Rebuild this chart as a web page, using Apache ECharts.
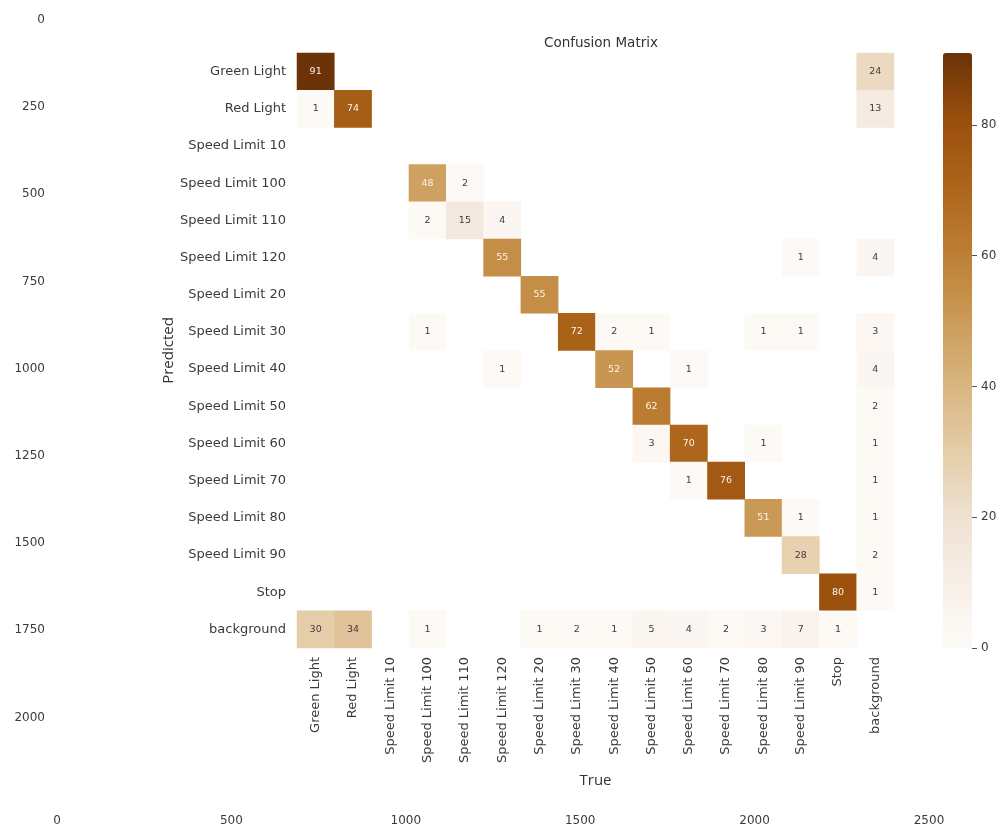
<!DOCTYPE html>
<html>
<head>
<meta charset="utf-8">
<title>Confusion Matrix</title>
<script src="https://cdn.jsdelivr.net/npm/echarts@6/dist/echarts.min.js"></script>
<style>
  html, body { margin: 0; padding: 0; background: #ffffff; }
  #chart { width: 1000px; height: 829px; }
</style>
</head>
<body>
<div id="chart"></div>
<script>
// Class names shared by both axes of the matrix
const classes = [
  'Green Light', 'Red Light', 'Speed Limit 10', 'Speed Limit 100',
  'Speed Limit 110', 'Speed Limit 120', 'Speed Limit 20', 'Speed Limit 30',
  'Speed Limit 40', 'Speed Limit 50', 'Speed Limit 60', 'Speed Limit 70',
  'Speed Limit 80', 'Speed Limit 90', 'Stop', 'background'
];

// One row per predicted class, columns follow the true class order
const rowGreenLight = [91, 0, 0, 0, 0, 0, 0, 0, 0, 0, 0, 0, 0, 0, 0, 24];
const rowRedLight   = [1, 74, 0, 0, 0, 0, 0, 0, 0, 0, 0, 0, 0, 0, 0, 13];
const rowSL10       = [0, 0, 0, 0, 0, 0, 0, 0, 0, 0, 0, 0, 0, 0, 0, 0];
const rowSL100      = [0, 0, 0, 48, 2, 0, 0, 0, 0, 0, 0, 0, 0, 0, 0, 0];
const rowSL110      = [0, 0, 0, 2, 15, 4, 0, 0, 0, 0, 0, 0, 0, 0, 0, 0];
const rowSL120      = [0, 0, 0, 0, 0, 55, 0, 0, 0, 0, 0, 0, 0, 1, 0, 4];
const rowSL20       = [0, 0, 0, 0, 0, 0, 55, 0, 0, 0, 0, 0, 0, 0, 0, 0];
const rowSL30       = [0, 0, 0, 1, 0, 0, 0, 72, 2, 1, 0, 0, 1, 1, 0, 3];
const rowSL40       = [0, 0, 0, 0, 0, 1, 0, 0, 52, 0, 1, 0, 0, 0, 0, 4];
const rowSL50       = [0, 0, 0, 0, 0, 0, 0, 0, 0, 62, 0, 0, 0, 0, 0, 2];
const rowSL60       = [0, 0, 0, 0, 0, 0, 0, 0, 0, 3, 70, 0, 1, 0, 0, 1];
const rowSL70       = [0, 0, 0, 0, 0, 0, 0, 0, 0, 0, 1, 76, 0, 0, 0, 1];
const rowSL80       = [0, 0, 0, 0, 0, 0, 0, 0, 0, 0, 0, 0, 51, 1, 0, 1];
const rowSL90       = [0, 0, 0, 0, 0, 0, 0, 0, 0, 0, 0, 0, 0, 28, 0, 2];
const rowStop       = [0, 0, 0, 0, 0, 0, 0, 0, 0, 0, 0, 0, 0, 0, 80, 1];
const rowBackground = [30, 34, 0, 1, 0, 0, 1, 2, 1, 5, 4, 2, 3, 7, 1, 0];

const matrixRows = [
  rowGreenLight, rowRedLight, rowSL10, rowSL100, rowSL110, rowSL120, rowSL20,
  rowSL30, rowSL40, rowSL50, rowSL60, rowSL70, rowSL80, rowSL90, rowStop, rowBackground
];

// Colour bar ticks
const colorbarTicks = [0, 20, 40, 60, 80];
// Pixel-coordinate ticks of the surrounding frame
const frameXTicks = [0, 500, 1000, 1500, 2000, 2500];
const frameYTicks = [0, 250, 500, 750, 1000, 1250, 1500, 1750, 2000];

// Brown sequential colour ramp, light to dark
const ramp = ['#fefbf8', '#f7efe7', '#efe1d2', '#e4cca7', '#d8b47f',
              '#cb9a56', '#bd7e34', '#ac641a', '#9a4f0d', '#6b3307'];

const maxCount = Math.max(...matrixRows.map(r => Math.max(...r)));

// Heatmap cells: zero counts are left blank
const cells = [];
matrixRows.forEach((row, yi) => {
  row.forEach((v, xi) => {
    if (v > 0) {
      cells.push({
        value: [xi, yi, v],
        label: { color: v >= 40 ? '#fbf3ea' : '#3d3d3d' }
      });
    }
  });
});

const dejavu = 'DejaVu Sans';
const tickGray = '#3b3b3b';
const plain = v => String(v);

const chart = echarts.init(document.getElementById('chart'), null, { renderer: 'canvas' });

chart.setOption({
  backgroundColor: '#ffffff',
  animation: false,
  title: {
    text: 'Confusion Matrix',
    left: 596, top: 31, textAlign: 'center',
    textStyle: { fontFamily: dejavu, fontSize: 13.5, fontWeight: 'normal', color: '#333' }
  },
  grid: [
    // outer frame
    { left: 57, top: 20, width: 872, height: 784.6, containLabel: false },
    // matrix
    { left: 297, top: 53, width: 597, height: 595, containLabel: false },
    // colour bar axis
    { left: 943, top: 53, width: 29, height: 595, containLabel: false }
  ],
  xAxis: [
    {
      gridIndex: 0, type: 'value', min: 0, max: 2500, interval: 500,
      axisLine: { show: false }, axisTick: { show: false }, splitLine: { show: false },
      axisLabel: {
        margin: 10, fontFamily: dejavu, fontSize: 12, color: tickGray,
        customValues: frameXTicks, formatter: plain
      }
    },
    {
      gridIndex: 1, type: 'category', data: classes, position: 'bottom',
      axisLine: { show: false }, axisTick: { show: false }, splitLine: { show: false },
      axisLabel: {
        rotate: 90, interval: 0, margin: 9,
        fontFamily: dejavu, fontSize: 13, color: tickGray
      },
      name: 'True', nameLocation: 'middle', nameGap: 125,
      nameTextStyle: { fontFamily: 'Open Sans', fontSize: 15, color: '#333' }
    },
    {
      gridIndex: 2, type: 'category', data: [''], show: false
    }
  ],
  yAxis: [
    {
      gridIndex: 0, type: 'value', min: 0, max: 2250, interval: 250, inverse: true,
      axisLine: { show: false }, axisTick: { show: false }, splitLine: { show: false },
      axisLabel: {
        margin: 12, fontFamily: dejavu, fontSize: 12, color: tickGray,
        customValues: frameYTicks, formatter: plain
      }
    },
    {
      gridIndex: 1, type: 'category', data: classes, inverse: true,
      axisLine: { show: false }, axisTick: { show: false }, splitLine: { show: false },
      axisLabel: {
        interval: 0, margin: 11, fontFamily: dejavu, fontSize: 13, color: tickGray
      },
      name: 'Predicted', nameLocation: 'middle', nameGap: 121, nameRotate: 90,
      nameMoveOverlap: false,
      nameTextStyle: { fontFamily: 'Open Sans', fontSize: 15, color: '#333' }
    },
    {
      gridIndex: 2, type: 'value', min: 0, max: maxCount, position: 'right',
      axisLine: { show: false }, splitLine: { show: false },
      axisTick: {
        show: true, length: 5, lineStyle: { color: '#555', width: 1 },
        customValues: colorbarTicks
      },
      axisLabel: {
        margin: 9, fontFamily: dejavu, fontSize: 12, color: tickGray,
        customValues: colorbarTicks, formatter: plain
      }
    }
  ],
  visualMap: {
    type: 'continuous',
    min: 0, max: maxCount,
    seriesIndex: 0,
    orient: 'vertical',
    left: 943, top: 53,
    itemWidth: 29, itemHeight: 595,
    padding: 0,
    calculable: false,
    hoverLink: false,
    showLabel: false,
    text: ['', ''],
    inRange: { color: ramp }
  },
  series: [
    {
      type: 'heatmap',
      xAxisIndex: 1, yAxisIndex: 1,
      data: cells,
      label: {
        show: true,
        fontFamily: dejavu, fontSize: 9.5,
        formatter: p => String(p.value[2])
      },
      itemStyle: { borderWidth: 0 },
      emphasis: { disabled: true }
    }
  ]
});
</script>
</body>
</html>
